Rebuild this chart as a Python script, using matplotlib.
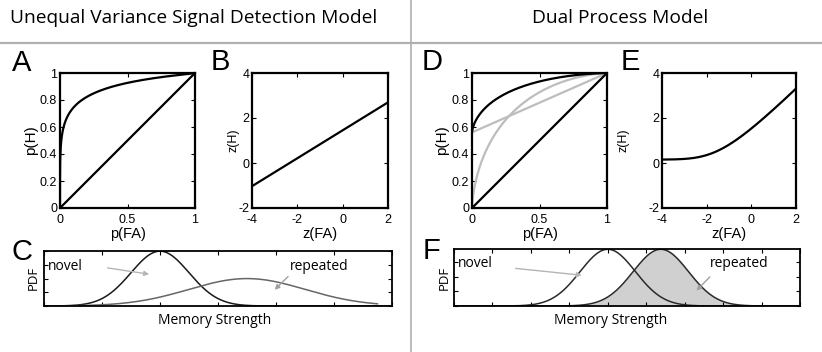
import math
import numpy as np
import matplotlib
matplotlib.use("Agg")
import matplotlib.pyplot as plt
from matplotlib.ticker import MultipleLocator
from matplotlib.lines import Line2D

plt.rcParams["axes.unicode_minus"] = False
plt.rcParams["font.family"] = ["Liberation Sans", "DejaVu Sans"]

# ---------------- data ----------------
# Unequal variance signal detection model (z-ROC line in B)
uvsd_mean_repeated = 2.34      # d (novel mean 0, sd 1)
uvsd_sd_repeated = 1.61        # sigma of repeated distribution
zfa_limits = [-4, 2]
# Dual process model
dp_recollection = 0.56         # R
dp_familiarity = 1.07          # d'
# Panel C distributions
c_novel = [0.0, 1.0]           # mean, sd
c_repeated = [3.0, 2.0]        # mean, sd
c_range = [-4.0, 8.0]
c_repeated_end = 7.5
# Panel F distributions
f_novel = [0.0, 0.72]
f_repeated = [1.38, 0.72]
f_range = [-4.0, 5.0]

titles = ["Unequal Variance Signal Detection Model", "Dual Process Model"]
panel_letters = ["A", "B", "C", "D", "E", "F"]
p_ticks = [0, 0.5, 1]
p_tick_labels = ["0", "0.5", "1"]
p_yticks = [0, 0.2, 0.4, 0.6, 0.8, 1]
p_ytick_labels = ["0", "0.2", "0.4", "0.6", "0.8", "1"]
z_xticks = [-4, -2, 0, 2]
z_yticks = [-2, 0, 2, 4]

# ---------------- helpers ----------------
erf = np.vectorize(math.erf)
def Phi(x):
    return 0.5 * (1 + erf(np.asarray(x) / np.sqrt(2)))

def Phi_inv(p):
    p = np.asarray(p, dtype=float)
    x = np.zeros_like(p)
    for _ in range(60):
        f = Phi(x) - p
        d = np.exp(-x**2 / 2) / np.sqrt(2 * np.pi)
        x = x - f / np.maximum(d, 1e-300)
        x = np.clip(x, -9, 9)
    return x

def pdf(x, m, s):
    return np.exp(-0.5 * ((x - m) / s) ** 2) / (s * np.sqrt(2 * np.pi))

W, H = 822, 352
fig = plt.figure(figsize=(W / 100, H / 100), dpi=100)

def ax_px(x0, y0, x1, y1):
    return fig.add_axes([x0 / W, 1 - y1 / H, (x1 - x0) / W, (y1 - y0) / H])

SEGOE = "Open Sans"

def style_square(ax):
    for s in ax.spines.values():
        s.set_linewidth(1.6)
    ax.tick_params(direction="in", length=3, width=0.8, top=True, right=True,
                   labelsize=9)
    ax.tick_params(axis="x", pad=4)
    ax.tick_params(axis="y", pad=2)

# ---------------- Panel A ----------------
axA = ax_px(60, 73, 195, 208)
crit = np.linspace(-9, 9, 2000)
pfa = 1 - Phi(crit)
ph = 1 - Phi((crit - uvsd_mean_repeated) / uvsd_sd_repeated)
axA.plot(pfa, ph, color="black", lw=1.6)
axA.plot([0, 1], [0, 1], color="black", lw=1.6)
axA.set_xlim(0, 1); axA.set_ylim(0, 1)
axA.set_xticks(p_ticks, p_tick_labels)
axA.set_yticks(p_yticks, p_ytick_labels)
style_square(axA)
axA.set_xlabel("p(FA)", size=10.5, labelpad=1)
axA.set_ylabel("p(H)", size=11)
axA.yaxis.set_label_coords(-0.165, 0.5)

# ---------------- Panel B ----------------
axB = ax_px(252, 73, 388, 208)
zfa = np.array(zfa_limits, dtype=float)
zh = (uvsd_mean_repeated + zfa) / uvsd_sd_repeated
axB.plot(zfa, zh, color="black", lw=1.6)
axB.set_xlim(-4, 2); axB.set_ylim(-2, 4)
axB.set_xticks(z_xticks); axB.set_yticks(z_yticks)
style_square(axB)
axB.set_xlabel("z(FA)", size=10.5, labelpad=1)
axB.set_ylabel("z(H)", size=9)
axB.yaxis.set_label_coords(-0.09, 0.5)

# ---------------- Panel D ----------------
axD = ax_px(472, 73, 607, 208)
pfa_d = 1 - Phi(crit)
fam = 1 - Phi(crit - dp_familiarity)
axD.plot(pfa_d, fam, color="#bdbdbd", lw=1.6)
axD.plot([0, 1], [dp_recollection, 1], color="#bdbdbd", lw=1.6)
axD.plot(pfa_d, dp_recollection + (1 - dp_recollection) * fam, color="black", lw=1.6)
axD.plot([0, 1], [0, 1], color="black", lw=1.6)
axD.set_xlim(0, 1); axD.set_ylim(0, 1)
axD.set_xticks(p_ticks, p_tick_labels)
axD.set_yticks(p_yticks, p_ytick_labels)
style_square(axD)
axD.set_xlabel("p(FA)", size=10.5, labelpad=1)
axD.set_ylabel("p(H)", size=11)
axD.yaxis.set_label_coords(-0.17, 0.5)

# ---------------- Panel E ----------------
axE = ax_px(662, 73, 796, 208)
zfa_e = np.linspace(zfa_limits[0], zfa_limits[1], 400)
ph_e = dp_recollection + (1 - dp_recollection) * Phi(dp_familiarity + zfa_e)
axE.plot(zfa_e, Phi_inv(ph_e), color="black", lw=1.6)
axE.set_xlim(-4, 2); axE.set_ylim(-2, 4)
axE.set_xticks(z_xticks); axE.set_yticks(z_yticks)
style_square(axE)
axE.set_xlabel("z(FA)", size=10.5, labelpad=1)
axE.set_ylabel("z(H)", size=9)
axE.yaxis.set_label_coords(-0.245, 0.5)

# ---------------- Panel C ----------------
def style_pdf(ax):
    for s in ax.spines.values():
        s.set_linewidth(1.3)
    ax.tick_params(direction="in", length=3, width=0.8, top=True, right=True,
                   labelbottom=False, labelleft=False)

axC = ax_px(44, 251, 392, 306)
xc = np.linspace(c_range[0], c_range[1], 600)
axC.plot(xc, pdf(xc, *c_novel), color="#1a1a1a", lw=1.1)
xr = np.linspace(c_range[0], c_repeated_end, 600)
axC.plot(xr, pdf(xr, *c_repeated), color="#666666", lw=1.1)
axC.set_xlim(*c_range); axC.set_ylim(0, 0.4)
axC.xaxis.set_major_locator(MultipleLocator(2))
axC.yaxis.set_major_locator(MultipleLocator(0.1))
style_pdf(axC)
axC.text(0.012, 0.72, "novel", transform=axC.transAxes, family=SEGOE, size=10,
         va="center", ha="left")
axC.text(0.79, 0.72, "repeated", transform=axC.transAxes, family=SEGOE, size=10,
         va="center", ha="center")
axC.annotate("", xy=(0.31, 0.57), xytext=(0.175, 0.70), xycoords="axes fraction",
             arrowprops=dict(arrowstyle="-|>", color="#b5b5b5", lw=1.0, mutation_scale=7))
axC.annotate("", xy=(0.657, 0.26), xytext=(0.707, 0.57), xycoords="axes fraction",
             arrowprops=dict(arrowstyle="-|>", color="#a0a0a0", lw=1.0, mutation_scale=7))

# ---------------- Panel F ----------------
axF = ax_px(454, 249, 800, 306)
xf = np.linspace(f_range[0], f_range[1], 600)
rep_f = pdf(xf, *f_repeated)
nov_f = pdf(xf, *f_novel)
axF.fill_between(xf, 0, rep_f, color="#d0d0d0", lw=0)
axF.plot(xf, rep_f, color="#2a2a2a", lw=1.1)
axF.plot(xf, nov_f, color="#2a2a2a", lw=1.1)
axF.set_xlim(*f_range); axF.set_ylim(0, nov_f.max() * 1.005)
axF.xaxis.set_major_locator(MultipleLocator(1))
axF.yaxis.set_major_locator(MultipleLocator(0.144))
style_pdf(axF)
axF.text(0.012, 0.74, "novel", transform=axF.transAxes, family=SEGOE, size=10,
         va="center", ha="left")
axF.text(0.825, 0.74, "repeated", transform=axF.transAxes, family=SEGOE, size=10,
         va="center", ha="center")
axF.annotate("", xy=(0.377, 0.535), xytext=(0.17, 0.665), xycoords="axes fraction",
             arrowprops=dict(arrowstyle="-|>", color="#b5b5b5", lw=1.0, mutation_scale=7))
axF.annotate("", xy=(0.695, 0.235), xytext=(0.745, 0.545), xycoords="axes fraction",
             arrowprops=dict(arrowstyle="-|>", color="#a0a0a0", lw=1.0, mutation_scale=7))

# PDF labels / memory strength
for x in (33, 444):
    fig.text(x / W, 1 - 278 / H, "PDF", rotation=90, family=SEGOE, size=9.5,
             ha="center", va="center")
fig.text(215 / W, 1 - 321 / H, "Memory Strength", family=SEGOE, size=10,
         ha="center", va="center")
fig.text(611 / W, 1 - 321 / H, "Memory Strength", family=SEGOE, size=10,
         ha="center", va="center")

# ---------------- titles, letters, separators ----------------
fig.text(10 / W, 1 - 18 / H, titles[0], family=SEGOE, size=13.8, ha="left", va="center")
fig.text(620 / W, 1 - 18 / H, titles[1], family=SEGOE, size=13.8, ha="center", va="center")

letter_pos = [(12, 63), (211, 62), (11, 252), (422, 62), (621, 62), (423, 251)]
for (x, y), L in zip(letter_pos, panel_letters):
    fig.text(x / W, 1 - y / H, L, size=21, ha="left", va="center")

fig.add_artist(Line2D([0, 1], [1 - 43 / H, 1 - 43 / H], transform=fig.transFigure,
                      color="#b0b0b0", lw=1.6))
fig.add_artist(Line2D([411 / W, 411 / W], [0, 1], transform=fig.transFigure,
                      color="#b0b0b0", lw=1.2))

fig.savefig("out.png", dpi=100)
